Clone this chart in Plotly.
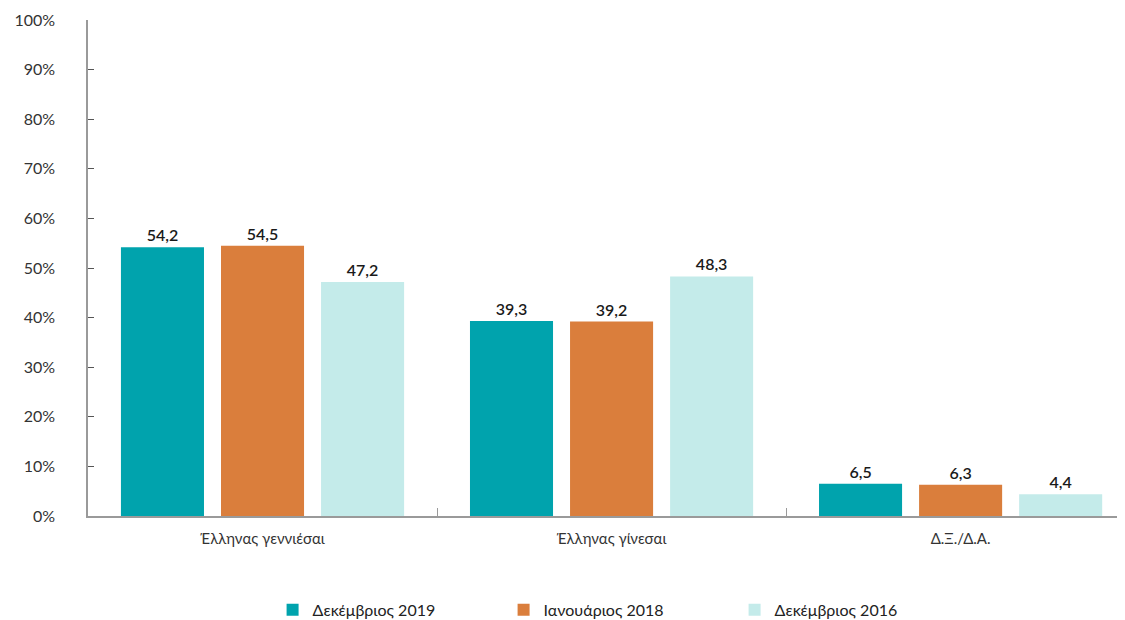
import plotly.graph_objects as go

categories = ["Έλληνας γεννιέσαι", "Έλληνας γίνεσαι", "Δ.Ξ./Δ.Α."]
dec_2019 = [54.2, 39.3, 6.5]
jan_2018 = [54.5, 39.2, 6.3]
dec_2016 = [47.2, 48.3, 4.4]

series = [
    ("Δεκέμβριος 2019", dec_2019, "#00A3AD"),
    ("Ιανουάριος 2018", jan_2018, "#DA7E3C"),
    ("Δεκέμβριος 2016", dec_2016, "#C4EBEA"),
]

fig = go.Figure()
for name, vals, color in series:
    fig.add_trace(go.Bar(
        x=categories, y=vals, name=name,
        marker=dict(color=color, line=dict(width=0)),
        text=[f"{v:.1f}".replace(".", ",") for v in vals],
        textposition="outside",
        textfont=dict(size=16, color="#1a1a1a", family="Lato, sans-serif", weight=600),
        cliponaxis=False,
    ))

# page body adds an 8px margin, so the figure is a bit smaller than the window
fig.update_layout(
    width=1117, height=612,
    barmode="group", bargap=0.14, bargroupgap=0.17,
    plot_bgcolor="white", paper_bgcolor="white",
    font=dict(family="Lato, sans-serif", size=15, color="#333333"),
    margin=dict(l=80, r=0, t=12, b=104, autoexpand=False),
    legend=dict(orientation="h", x=0.178, xanchor="left", y=-0.189, yanchor="middle",
                font=dict(size=16, color="#222222"),
                entrywidth=186, entrywidthmode="pixels"),
    showlegend=True,
)
fig.update_yaxes(range=[0, 100], dtick=10, ticksuffix="%", showgrid=False,
                 showline=True, linecolor="#9a9a9a", linewidth=1.5,
                 ticks="inside", ticklen=6, tickcolor="#555555",
                 ticklabelstandoff=28, automargin=False,
                 tickfont=dict(size=16, color="#333333"), zeroline=False)
# the original chart runs past the right edge, so the last category is cut short
fig.update_xaxes(range=[-0.5, 2.471],
                 showline=True, linecolor="#9a9a9a", linewidth=2,
                 ticks="inside", tickson="boundaries", ticklen=8, tickcolor="#9a9a9a",
                 ticklabelstandoff=8, automargin=False,
                 tickfont=dict(size=15, color="#333333"))

fig.write_html("out.html")
